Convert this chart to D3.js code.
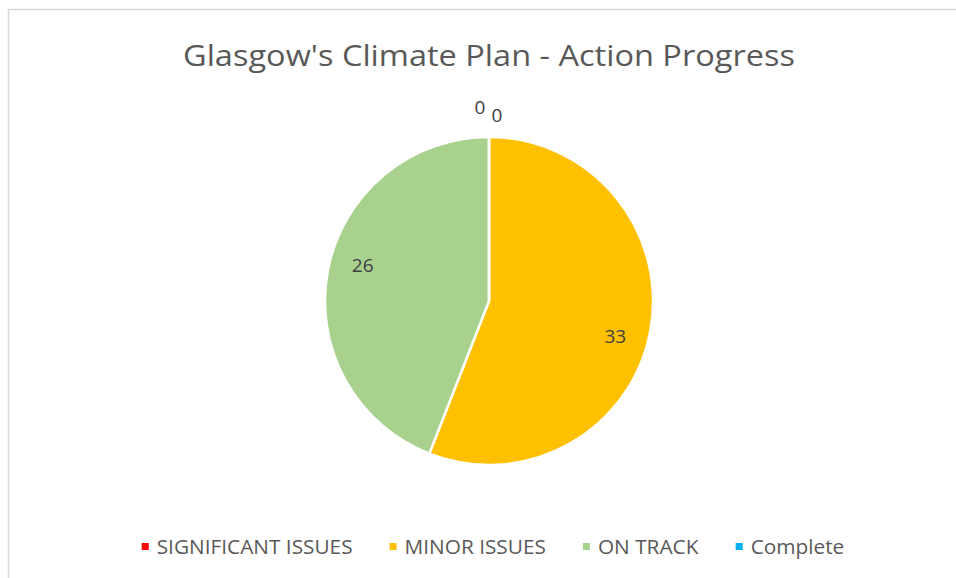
<!DOCTYPE html>
<html lang="en">
<head>
  <meta charset="UTF-8">
  <title>Glasgow's Climate Plan - Action Progress</title>
  <script src="https://cdn.jsdelivr.net/npm/d3@7"></script>
  <style>
    body {
      margin: 0;
      background: #fff;
      overflow: hidden;
    }

    #chart text {
      font-family: "Open Sans", "Noto Sans", sans-serif;
      fill: #595959;
    }

    #chart text.lbl {
      fill: #404040;
    }
  </style>
</head>
<body>
<svg id="chart"></svg>
<script>
  let categories = ["SIGNIFICANT ISSUES", "MINOR ISSUES", "ON TRACK", "Complete"];
  let values = [0, 33, 26, 0];
  let colors = ["#ff0000", "#ffc000", "#a9d18e", "#00b0f0"];

  let width = 956, height = 578;
  let cx = 489, cy = 301, r = 164;

  let svg = d3.select("#chart")
      .attr("width", width)
      .attr("height", height);

  // chart area border
  svg.append("rect")
      .attr("x", 8.5).attr("y", 9.5)
      .attr("width", width + 20).attr("height", height + 20)
      .attr("fill", "none")
      .attr("stroke", "#d9d9d9")
      .attr("stroke-width", 1.5);

  svg.append("text")
      .attr("x", cx).attr("y", 66)
      .attr("text-anchor", "middle")
      .style("font-size", "30px")
      .attr("textLength", 612)
      .attr("lengthAdjust", "spacingAndGlyphs")
      .text("Glasgow's Climate Plan - Action Progress");

  let data = categories.map((c, i) => ({name: c, value: values[i], color: colors[i], i: i}));

  let pie = d3.pie().sort(null).value(d => d.value);
  let arc = d3.arc().innerRadius(0).outerRadius(r);
  let labelR = r * 0.8, labelShift = 5 * Math.PI / 180;

  let g = svg.append("g").attr("transform", `translate(${cx},${cy})`);
  let arcs = pie(data);

  g.selectAll("path")
      .data(arcs)
      .join("path")
      .attr("d", arc)
      .attr("fill", d => d.data.color)
      .attr("stroke", "#fff")
      .attr("stroke-width", 2.5)
      .attr("stroke-linejoin", "miter");

  // zero slices get their labels outside, nudged apart
  g.selectAll("text.lbl")
      .data(arcs)
      .join("text")
      .attr("class", "lbl")
      .attr("text-anchor", "middle")
      .attr("dy", "0.35em")
      .style("font-size", "19px")
      .attr("transform", d => {
        if (d.data.value === 0) {
          let a = d.startAngle;
          let rr = r + (d.data.i === 0 ? 22 : 30);
          let nudge = d.data.i === 0 ? 8 : -9;
          return `translate(${Math.sin(a) * rr + nudge},${-Math.cos(a) * rr})`;
        }
        let a = (d.startAngle + d.endAngle) / 2 + labelShift;
        return `translate(${Math.sin(a) * labelR},${-Math.cos(a) * labelR})`;
      })
      .text(d => d.data.value);

  // legend
  let legend = svg.append("g").attr("transform", "translate(0,547)");
  let items = legend.selectAll("g")
      .data(data)
      .join("g");
  items.append("rect")
      .attr("width", 7).attr("height", 7)
      .attr("y", -4)
      .attr("fill", d => d.color);
  items.append("text")
      .attr("x", 15)
      .attr("dy", "0.35em")
      .style("font-size", "20.8px")
      .text(d => d.name);

  let x = 0, gap = 37;
  let offsets = [];
  items.each(function () {
    offsets.push(x);
    x += this.getBBox().width + gap;
  });
  let total = x - gap;
  let start = (width - total) / 2 + 15;
  items.attr("transform", (d, i) => `translate(${start + offsets[i]},0)`);
</script>
</body>
</html>
